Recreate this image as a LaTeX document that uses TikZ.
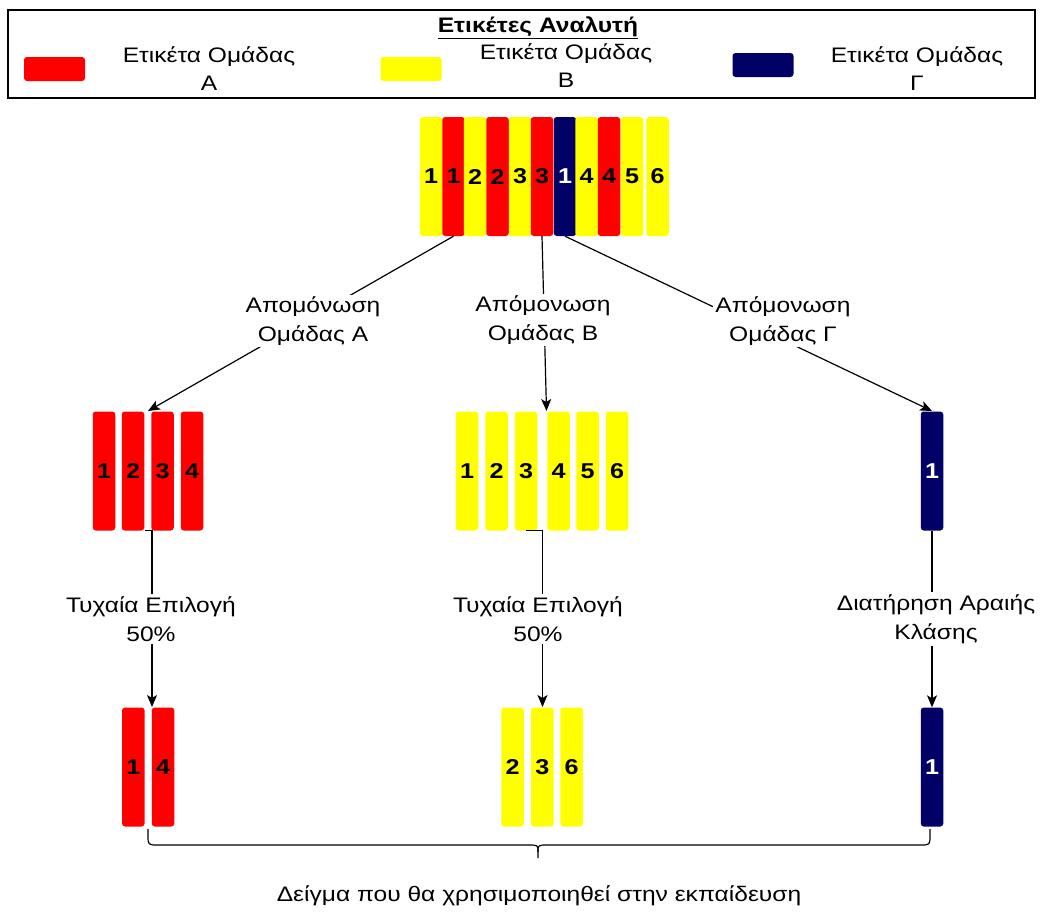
\documentclass[tikz,border=0pt]{standalone}
\usepackage{fontspec}
\setmainfont{Liberation Sans}[FakeStretch=1.17]
\usetikzlibrary{arrows.meta}
\definecolor{grpred}{HTML}{FF0000}
\definecolor{grpyellow}{HTML}{FFFF00}
\definecolor{grpnavy}{HTML}{000066}
\begin{document}
\begin{tikzpicture}[x=1pt,y=-1pt,
  bar/.style={rectangle, rounded corners=3pt, minimum width=22.5pt, minimum height=119pt,
              inner sep=0pt, font=\fontsize{21.5}{21.5}\selectfont\bfseries},
  barA/.style={bar, fill=grpred},
  barB/.style={bar, fill=grpyellow},
  barC/.style={bar, fill=grpnavy, text=white},
  swatch/.style={rectangle, rounded corners=3pt, minimum width=61pt, minimum height=24pt, inner sep=0pt},
  legtext/.style={align=center, font=\fontsize{21}{28}\selectfont},
  lbl/.style={fill=white, align=center, inner sep=2pt, font=\fontsize{21}{29}\selectfont},
  link/.style={line width=1.2pt, -{Stealth[length=12pt,width=10pt,inset=3pt]}},
  plain/.style={line width=1.2pt},
]
\useasboundingbox (0,0) rectangle (1043,913);

% legend
\node[draw=black, line width=1.3pt, minimum width=1027pt, minimum height=88pt, inner sep=0pt] (legend) at (521.5,54) {};
\node[font=\fontsize{21}{21}\selectfont\bfseries] (legtitle) at (538,28) {\underline{Ετικέτες Αναλυτή}};
\node[swatch, fill=grpred] (swA) at (54.5,69) {};
\node[swatch, fill=grpyellow] (swB) at (411,69) {};
\node[swatch, fill=grpnavy] (swC) at (763,65) {};
\node[legtext] (ltA) at (209,69) {Ετικέτα Ομάδας\\Α};
\node[legtext] (ltB) at (566,66) {Ετικέτα Ομάδας\\Β};
\node[legtext] (ltC) at (917,69) {Ετικέτα Ομάδας\\Γ};

% full labelled set
\node[barB] (t1)  at (431,176.5)   {1};
\node[barA] (t2)  at (453.5,176.5) {1};
\node[barB] (t3)  at (475,176.5)   {2};
\node[barA] (t4)  at (497.5,176.5) {2};
\node[barB] (t5)  at (520,176.5)   {3};
\node[barA] (t6)  at (542,176.5)   {3};
\node[barC] (t7)  at (565,176.5)   {1};
\node[barB] (t8)  at (586.5,176.5) {4};
\node[barA] (t9)  at (609,176.5)   {4};
\node[barB] (t10) at (632,176.5)   {5};
\node[barB] (t11) at (657.5,176.5) {6};

% isolated groups
\node[barA] (a1) at (104,471)   {1};
\node[barA] (a2) at (133,471)   {2};
\node[barA] (a3) at (162.5,471) {3};
\node[barA] (a4) at (192,471)   {4};

\node[barB] (b1) at (467,471)   {1};
\node[barB] (b2) at (496.5,471) {2};
\node[barB] (b3) at (526,471)   {3};
\node[barB] (b4) at (558.5,471) {4};
\node[barB] (b5) at (587.5,471) {5};
\node[barB] (b6) at (617,471)   {6};

\node[barC] (c1) at (932,471) {1};

% training sample
\node[barA] (sa1) at (133.3,767) {1};
\node[barA] (sa4) at (163,767)   {4};
\node[barB] (sb2) at (512.5,767) {2};
\node[barB] (sb3) at (542.3,767) {3};
\node[barB] (sb6) at (571.5,767) {6};
\node[barC] (sc1) at (932,767)   {1};

% group entry points
\coordinate (gA) at (148,411);
\coordinate (gB) at (546.5,411);
\coordinate (gC) at (932,411);
\coordinate (sA) at (152,707);
\coordinate (sB) at (542.5,707);

% isolation arrows
\draw[link] (t2.south) -- (gA);
\draw[link] (t6.south) -- (gB);
\draw[link] (t7.south) -- (gC);
\node[lbl] (isoA) at (313,321) {Απομόνωση\\Ομάδας Α};
\node[lbl] (isoB) at (543,320) {Απόμονωση\\Ομάδας Β};
\node[lbl] (isoC) at (783,321) {Απόμονωση\\Ομάδας Γ};

% sampling arrows
\draw[link] (a3.south west) ++(-6,0) coordinate (fromA) -- (fromA -| sA) -- (sA);
\draw[link] (b3.south) -- (b3.south -| sB) -- (sB);
\draw[link] (c1.south) -- (sc1.north);
\node[lbl] (selA) at (151,619) {Τυχαία Επιλογή\\50\%};
\node[lbl] (selB) at (538,619) {Τυχαία Επιλογή\\50\%};
\node[lbl] (keepC) at (936,619) {Διατήρηση Αραιής\\Κλάσης};

% brace over the training sample
\draw[plain] (148,829) -- (148,835) .. controls (148,845) .. (158,845) -- (528,845)
  .. controls (538,845) .. (538,852) -- (538,858);
\draw[plain] (538,852) .. controls (538,845) .. (548,845) -- (920,845)
  .. controls (930,845) .. (930,835) -- (930,829);
\node[legtext] (caption) at (539,896) {Δείγμα που θα χρησιμοποιηθεί στην εκπαίδευση};
\end{tikzpicture}
\end{document}
